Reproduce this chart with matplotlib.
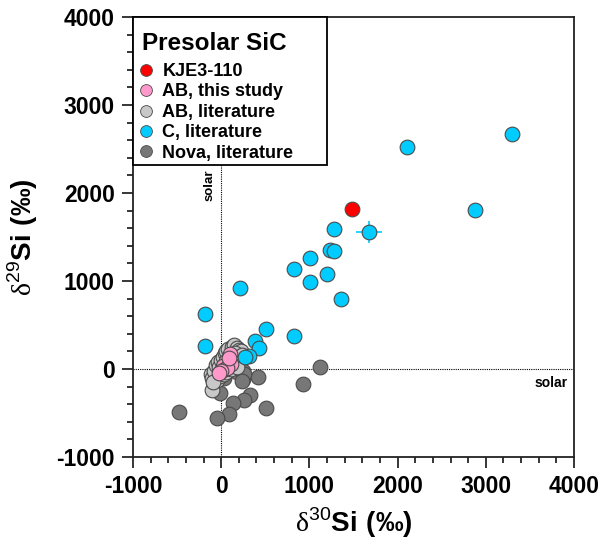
import matplotlib
matplotlib.use("Agg")
import matplotlib.pyplot as plt
from matplotlib.lines import Line2D
from matplotlib.patches import Rectangle
from matplotlib.ticker import MultipleLocator

plt.rcParams['font.family'] = ['Liberation Sans', 'DejaVu Sans']
plt.rcParams['mathtext.fontset'] = 'custom'
plt.rcParams['mathtext.rm'] = 'Liberation Serif'
plt.rcParams['mathtext.sf'] = 'Liberation Sans'
plt.rcParams['mathtext.bf'] = 'Liberation Sans:bold'
plt.rcParams['axes.unicode_minus'] = False

# ---- data (delta30Si, delta29Si in permil) ----
nova_x = [1115, 926, 416, 246, -11, 329, 264, 139, 507, -484, 83, -49, 178, 250, 260, 240, 30]
nova_y = [26, -170, -94, -117, -276, -295, -351, -390, -446, -491, -510, -552, -30, -20, -60, -140, -100]

ablit_x = [-120, -100, -80, -60, -40, -20, 0, 20, 40, 60, 80, 120, 150, 180, 200, 220, 160, 130,
           100, 80, 140, 170, 200, -50, -10, 30, -106, -90, 60, 110, 180, 240]
ablit_y = [-60, -100, -20, 40, 80, 20, 100, 140, 180, 200, 230, 250, 270, 240, 220, 200, 180, 130,
           120, 60, 40, 90, 140, -120, -80, -60, -238, -150, -30, 0, 20, 160]

c_x = [-181, -181, 208, 510, 385, 431, 310, 272, 828, 1361, 828, 1009, 1009, 1202, 1236, 1274,
       1281, 1674, 2110, 2879, 3292]
c_y = [620, 264, 926, 450, 321, 234, 147, 133, 375, 790, 1141, 1266, 990, 1077, 1357, 1341,
       1595, 1557, 2519, 1807, 2667]

abthis_x = [100, 60, 110, 20, 40, 70, 0, -30, 90]
abthis_y = [170, 90, 60, 30, 0, 10, -20, -50, 130]

kje_x = [1482]
kje_y = [1814]

# error bars on one C grain
err_x = [1674]
err_y = [1557]
err_dx = [150]
err_dy = [120]

legend_title = 'Presolar SiC'
labels = ['KJE3-110', 'AB, this study', 'AB, literature', 'C, literature', 'Nova, literature']
colors = ['#FF0000', '#FF99CC', '#C8C8C8', '#00CCFF', '#777777']

fig = plt.figure(figsize=(6.10, 5.44), dpi=100)
ax = fig.add_axes([133/610, 1-457/544, 441/610, 440/544])

ax.axhline(0, color='black', ls=(0, (1, 1)), lw=0.8, zorder=1)
ax.axvline(0, color='black', ls=(0, (1, 1)), lw=0.8, zorder=1)

ec = '#4a4a4a'
s = 112
ax.errorbar(err_x, err_y, xerr=err_dx, yerr=err_dy, fmt='none', ecolor=colors[3], elinewidth=1.2, zorder=2)
ax.scatter(nova_x, nova_y, s=s, c=colors[4], edgecolors=ec, linewidths=0.8, zorder=3)
ax.scatter(ablit_x, ablit_y, s=s, c=colors[2], edgecolors=ec, linewidths=0.8, zorder=4)
ax.scatter(c_x, c_y, s=s, c=colors[3], edgecolors=ec, linewidths=0.8, zorder=5)
ax.scatter(abthis_x, abthis_y, s=s, c=colors[1], edgecolors=ec, linewidths=0.8, zorder=6)
ax.scatter(kje_x, kje_y, s=s, c=colors[0], edgecolors=ec, linewidths=0.8, zorder=7)

ax.set_xlim(-1000, 4000)
ax.set_ylim(-1000, 4000)
ax.xaxis.set_major_locator(MultipleLocator(1000))
ax.yaxis.set_major_locator(MultipleLocator(1000))
ax.xaxis.set_minor_locator(MultipleLocator(200))
ax.yaxis.set_minor_locator(MultipleLocator(200))
ax.tick_params(which='major', direction='out', length=8, width=1.1, labelsize=16.5, pad=5)
ax.tick_params(which='minor', direction='out', length=4.5, width=1.1)
for lab in ax.get_xticklabels() + ax.get_yticklabels():
    lab.set_fontweight('bold')
for sp in ax.spines.values():
    sp.set_linewidth(1.3)
    sp.set_color('#222222')

ax.set_xlabel(r'$\mathrm{\delta}^{\mathsf{30}}\mathbf{Si\ (‰)}$', fontsize=20, labelpad=5)
ax.set_ylabel(r'$\mathrm{\delta}^{\mathsf{29}}\mathbf{Si\ (‰)}$', fontsize=20, labelpad=12)

ax.text(-60, 2270, 'solar', rotation=90, ha='right', va='top', fontsize=9.5, fontweight='bold', zorder=2)
ax.text(3930, -80, 'solar', ha='right', va='top', fontsize=10, fontweight='bold', zorder=2)

# legend box (fixed size, flush with top-left corner)
ax.add_patch(Rectangle((0, 1 - 148/440), 194/441, 148/440, transform=ax.transAxes,
                       facecolor='white', edgecolor='black', lw=1.3, zorder=9, clip_on=False))
ax.text(9/441, 1 - 26/440, legend_title, transform=ax.transAxes, ha='left', va='center',
        fontsize=17.5, fontweight='bold', zorder=11)

handles = [Line2D([], [], ls='none', marker='o', markersize=8.5, markerfacecolor=c,
                  markeredgecolor=ec, markeredgewidth=0.6) for c in colors]
leg = ax.legend(handles, labels, loc='upper left', bbox_to_anchor=(6/441, 1 - 46/440),
                borderaxespad=0, frameon=False, prop={'weight': 'bold', 'size': 13},
                handlelength=0.8, handletextpad=0.5, labelspacing=0.19, borderpad=0)
leg.set_zorder(10)

fig.savefig('out.png', dpi=100)
